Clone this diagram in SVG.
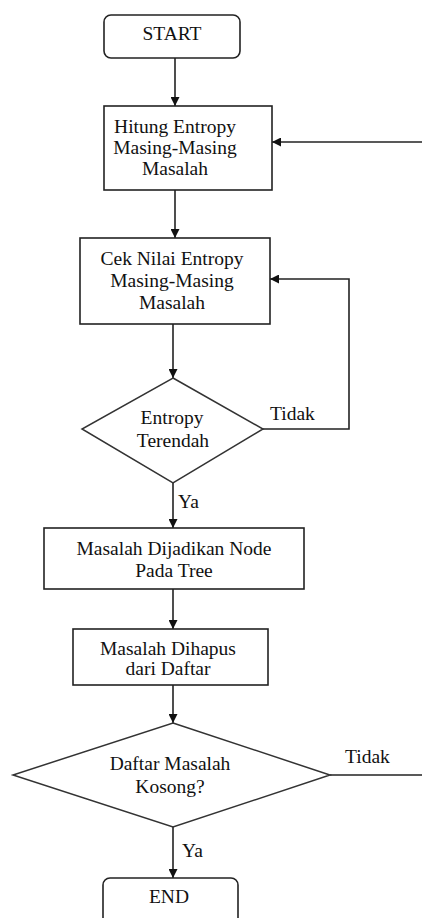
<svg xmlns="http://www.w3.org/2000/svg" width="422" height="918" viewBox="0 0 422 918">
<style>
.b{fill:#fff;stroke:#222;stroke-width:1.6}
.d{fill:#fff;stroke:#333;stroke-width:1.5}
.c{fill:none;stroke:#222;stroke-width:1.6}
text{font-family:"Liberation Serif","Times New Roman",serif;font-size:19.5px;fill:#111;text-anchor:middle}
.l{text-anchor:start}
</style>
<defs>
<marker id="ah" viewBox="0 0 10 10" refX="10" refY="5" markerWidth="9" markerHeight="9" markerUnits="userSpaceOnUse" orient="auto">
<path d="M0,0 L10,5 L0,10 z" fill="#111"/>
</marker>
</defs>
<rect width="422" height="918" fill="#fff"/>
<g id="connectors">
<path class="c" d="M175,58 V106" marker-end="url(#ah)"/>
<path class="c" d="M175,190 V238" marker-end="url(#ah)"/>
<path class="c" d="M173,324 V378" marker-end="url(#ah)"/>
<path class="c" d="M263,429 H349 V279 H270" marker-end="url(#ah)"/>
<path class="c" d="M173,483 V528" marker-end="url(#ah)"/>
<path class="c" d="M173,589 V629" marker-end="url(#ah)"/>
<path class="c" d="M173,685 V723" marker-end="url(#ah)"/>
<path class="c" d="M330,775 H422"/>
<path class="c" d="M422,142 H272" marker-end="url(#ah)"/>
<path class="c" d="M173,827 V878" marker-end="url(#ah)"/>
<text class="l" x="270" y="420">Tidak</text>
<text class="l" x="178" y="508">Ya</text>
<text class="l" x="345" y="763">Tidak</text>
<text class="l" x="182" y="857">Ya</text>
</g>
<g id="start">
<rect class="b" x="104" y="15" width="136" height="43" rx="7"/>
<text x="172" y="40">START</text>
</g>
<g id="hitung">
<rect class="b" x="104" y="106" width="168" height="84"/>
<text x="175" y="133">Hitung Entropy</text>
<text x="175" y="154">Masing-Masing</text>
<text x="175" y="175">Masalah</text>
</g>
<g id="cek">
<rect class="b" x="80" y="238" width="190" height="86"/>
<text x="172" y="265">Cek Nilai Entropy</text>
<text x="172" y="287">Masing-Masing</text>
<text x="172" y="309">Masalah</text>
</g>
<g id="entropy">
<polygon class="d" points="173,378 263,429 173,483 82,429"/>
<text x="172" y="424">Entropy</text>
<text x="173" y="447">Terendah</text>
</g>
<g id="node">
<rect class="b" x="44" y="528" width="260" height="61"/>
<text x="174" y="555">Masalah Dijadikan Node</text>
<text x="174" y="577">Pada Tree</text>
</g>
<g id="hapus">
<rect class="b" x="73" y="629" width="195" height="56"/>
<text x="168" y="655">Masalah Dihapus</text>
<text x="168" y="675">dari Daftar</text>
</g>
<g id="kosong">
<polygon class="d" points="173,723 330,775 173,827 13,775"/>
<text x="170" y="770">Daftar Masalah</text>
<text x="170" y="793">Kosong?</text>
</g>
<g id="end">
<rect class="b" x="103" y="878" width="135" height="50" rx="7"/>
<text x="169" y="903">END</text>
</g>
</svg>
